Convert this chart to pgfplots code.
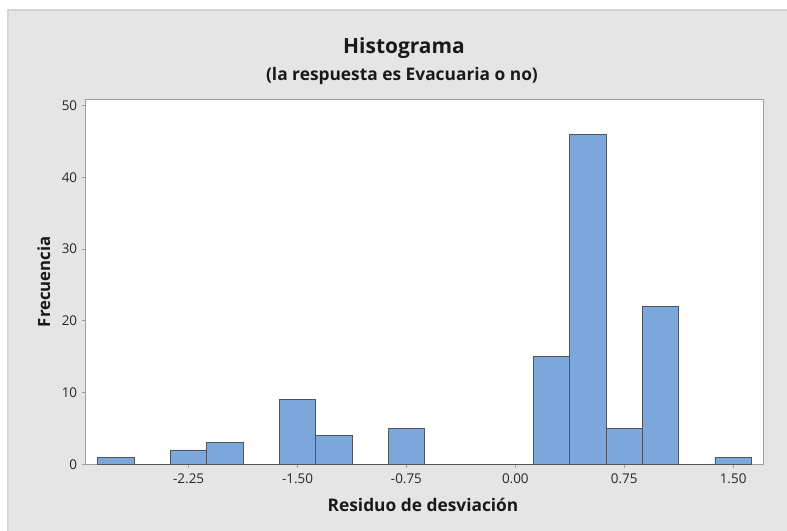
\documentclass[border=0pt]{standalone}
\usepackage{fontspec}
\setmainfont{Open Sans}
\usepackage{pgfplots}
\pgfplotsset{compat=1.18}
\definecolor{bg}{HTML}{E5E5E5}
\definecolor{bgline}{HTML}{D4D4D4}
\definecolor{barfill}{HTML}{7BA7DA}
\definecolor{baredge}{HTML}{4F5560}
\definecolor{frame}{HTML}{A0A0A0}
\begin{document}
\begin{tikzpicture}[x=1bp,y=1bp]
\path[use as bounding box] (0,0) rectangle (787,531);
\fill[bg] (8,0) rectangle (787,521);
\draw[bgline, line width=1.2bp] (8,0) -- (8,521) -- (787,521);
\begin{axis}[
  at={(85.7bp,66.7bp)}, anchor=south west,
  scale only axis, width=677.6bp, height=365bp,
  xmin=-2.959, xmax=1.708, ymin=0, ymax=50.9,
  axis background/.style={fill=white},
  axis line style={frame, line width=0.8bp},
  xtick={-2.25,-1.5,-0.75,0,0.75,1.5},
  xticklabels={-2.25,-1.50,-0.75,0.00,0.75,1.50},
  ytick={0,10,20,30,40,50},
  xtick pos=lower, ytick pos=left,
  tick align=outside, major tick length=4bp,
  tick style={frame, line width=0.8bp},
  /pgf/number format/assume math mode=true,
  ticklabel style={font=\fontsize{13.5}{15}\selectfont, text=black!85},
  xticklabel style={yshift=-2bp},
  yticklabel style={xshift=-1bp},
]
\addplot[ybar interval, fill=barfill, draw=baredge, line width=0.9bp] coordinates {
(-2.875,1) (-2.625,0) (-2.375,2) (-2.125,3) (-1.875,0) (-1.625,9) (-1.375,4)
(-1.125,0) (-0.875,5) (-0.625,0) (-0.375,0) (-0.125,0) (0.125,15) (0.375,46)
(0.625,5) (0.875,22) (1.125,0) (1.375,1) (1.625,0)};
\end{axis}
\node[anchor=base, font=\fontsize{21}{24}\selectfont\bfseries, text=black!90] at (404,477) {Histograma};
\node[anchor=base, font=\fontsize{17.4}{20}\selectfont\bfseries, text=black!90] at (402,450.3) {(la respuesta es Evacuaria o no)};
\node[anchor=base, font=\fontsize{17.4}{20}\selectfont\bfseries, text=black!90] at (423,19.3) {Residuo de desviación};
\node[anchor=base, rotate=90, font=\fontsize{16.8}{20}\selectfont\bfseries, text=black!90] at (50,249.3) {Frecuencia};
\end{tikzpicture}
\end{document}
